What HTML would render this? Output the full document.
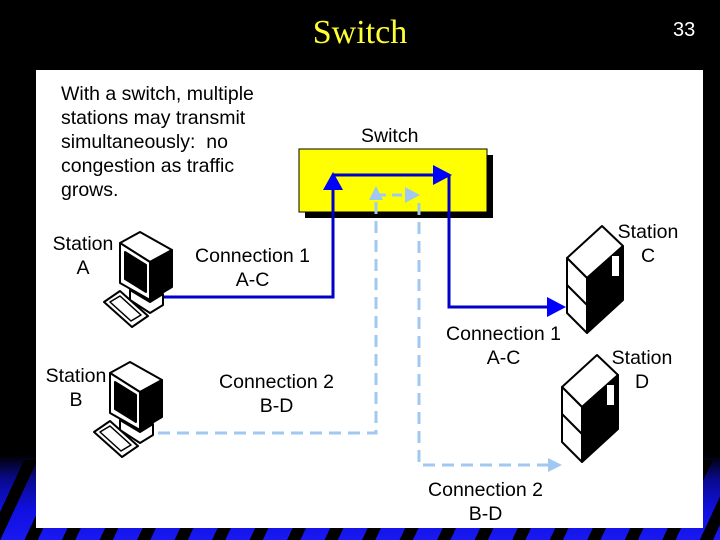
<!DOCTYPE html>
<html><head><style>
body{margin:0;width:720px;height:540px;overflow:hidden;position:relative;font-family:"Liberation Sans",sans-serif;
background:linear-gradient(to bottom,#000 0,#000 455px,#0a0a90 480px,#1010e0 510px,#1818f0 540px);}
.stripes{position:absolute;left:0;top:460px;width:720px;height:80px;
background:repeating-linear-gradient(115deg,transparent 0,transparent 22px,#000 22px,#000 34px);}
.panel{position:absolute;left:36px;top:70px;width:667px;height:458px;background:#fff;}
.t{position:absolute;font-size:19.5px;color:#000;text-align:center;line-height:24px;white-space:nowrap;}
</style></head><body>
<div class="stripes"></div>
<div style="position:absolute;left:0;top:14px;width:720px;text-align:center;font-family:'Liberation Serif',serif;font-size:34px;color:#ffff33">Switch</div>
<div style="position:absolute;left:673px;top:19px;font-size:20px;color:#fff">33</div>
<div class="panel"></div>
<svg width="720" height="540" style="position:absolute;left:0;top:0">
<rect x="305" y="155" width="188" height="63" fill="#000"/>
<rect x="299" y="149" width="188" height="63" fill="#ffff00" stroke="#000" stroke-width="1"/>
<polyline points="163,297 333,297 333,185" fill="none" stroke="#0000c8" stroke-width="3"/>
<polygon points="323,190 343,190 333,172" fill="#0000ff"/>
<polyline points="333,175 440,175" fill="none" stroke="#0000c8" stroke-width="3"/>
<polygon points="433,165 433,185 452,175" fill="#0000ff"/>
<polyline points="449,175 449,307 550,307" fill="none" stroke="#0000c8" stroke-width="3"/>
<polygon points="547,297 547,317 566,307" fill="#0000ff"/>
<polyline points="158,433 376,433 376,198" fill="none" stroke="#a0c8f0" stroke-width="3" stroke-dasharray="12,7"/>
<polyline points="376,195 405,195" fill="none" stroke="#a0c8f0" stroke-width="3" stroke-dasharray="10,6"/>
<polygon points="369,200 383,200 376,186" fill="#a0c8f0"/>
<polygon points="405,187 405,203 420,195" fill="#a0c8f0"/>
<polyline points="419,203 419,465 548,465" fill="none" stroke="#a0c8f0" stroke-width="3" stroke-dasharray="12,7"/>
<polygon points="548,458 548,472 562,465" fill="#a0c8f0"/>
<!-- computers -->
<g id="pc" stroke="#000" stroke-width="2" stroke-linejoin="round">
<polygon points="120,243 140,232 172,250 150,262" fill="#fff"/>
<polygon points="120,243 150,262 150,300 120,283" fill="#fff"/>
<polygon points="125,252 146,265 146,292 125,279" fill="#000"/>
<polygon points="150,262 172,250 172,287 150,300" fill="#000"/>
<polygon points="130,290 150,302 163,294 163,305 150,313 130,300" fill="#fff"/>
<polygon points="104,302 120,291 148,316 132,327" fill="#fff"/>
<polygon points="110,302 120,296 141,315 131,321" fill="none" stroke-width="1.5"/>
</g>
<use href="#pc" x="-10" y="130"/>
<!-- servers -->
<g id="sv" stroke="#000" stroke-width="2" stroke-linejoin="round">
<polygon points="567,258 602,226 623,246 587,278" fill="#fff"/>
<polygon points="567,258 587,278 587,333 567,313" fill="#fff"/>
<line x1="567" y1="285" x2="587" y2="305"/>
<polygon points="587,278 623,246 623,300 587,333" fill="#000"/>
<rect x="612" y="256" width="7" height="20" fill="#fff" stroke="none"/>
</g>
<use href="#sv" x="-5" y="129"/>
</svg>
<div class="t" style="left:61px;top:82px;text-align:left">With a switch, multiple<br>stations may transmit<br>simultaneously:&nbsp; no<br>congestion as traffic<br>grows.</div>
<div class="t" style="left:361px;top:124px">Switch</div>
<div class="t" style="left:48px;top:232px;width:70px">Station<br>A</div>
<div class="t" style="left:41px;top:364px;width:70px">Station<br>B</div>
<div class="t" style="left:190px;top:244px;width:125px">Connection 1<br>A-C</div>
<div class="t" style="left:214px;top:370px;width:125px">Connection 2<br>B-D</div>
<div class="t" style="left:613px;top:220px;width:70px">Station<br>C</div>
<div class="t" style="left:607px;top:346px;width:70px">Station<br>D</div>
<div class="t" style="left:441px;top:322px;width:125px">Connection 1<br>A-C</div>
<div class="t" style="left:423px;top:478px;width:125px">Connection 2<br>B-D</div>
</body></html>
